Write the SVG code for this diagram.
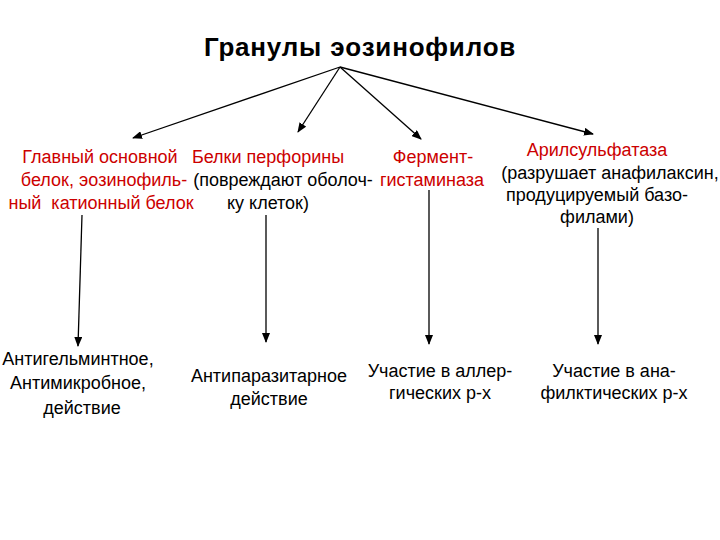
<svg xmlns="http://www.w3.org/2000/svg" width="720" height="540" viewBox="0 0 720 540">
<defs><marker id="ah" markerWidth="10" markerHeight="8" refX="9" refY="4" orient="auto" markerUnits="userSpaceOnUse"><path d="M0,0 L10,4 L0,8 z" fill="#000"/></marker></defs>
<style>
text{font-family:"Liberation Sans",Arial,sans-serif;font-size:18px;text-anchor:middle}
.r{fill:#cc0000}.k{fill:#000}
line{stroke:#000;stroke-width:1.3}
</style>
<rect width="720" height="540" fill="#fff"/>
<g id="title"><text x="360" y="56" style="font-size:26px;font-weight:bold;letter-spacing:0.8px">Гранулы эозинофилов</text></g>
<g id="n1"><text class="r" x="100" y="163">Главный основной</text><text class="r" x="104" y="186">белок, эозинофиль-</text><text class="r" x="101" y="209">ный &#160;катионный белок</text></g>
<g id="n2"><text class="r" x="268" y="163">Белки перфорины</text><text class="k" x="283" y="186">(повреждают оболоч-</text><text class="k" x="268" y="209">ку клеток)</text></g>
<g id="n3"><text class="r" x="433" y="163">Фермент-</text><text class="r" x="432" y="186">гистаминаза</text></g>
<g id="n4"><text class="r" x="597" y="156">Арилсульфатаза</text><text class="k" x="610" y="179">(разрушает анафилаксин,</text><text class="k" x="597" y="201">продуцируемый базо-</text><text class="k" x="597" y="223">филами)</text></g>
<g id="b1"><text x="78" y="365">Антигельминтное,</text><text x="78" y="389">Антимикробное,</text><text x="82" y="414">действие</text></g>
<g id="b2"><text x="269" y="382">Антипаразитарное</text><text x="269" y="405">действие</text></g>
<g id="b3"><text x="440" y="377">Участие в аллер-</text><text x="440" y="399">гических р-х</text></g>
<g id="b4"><text x="614" y="377">Участие в ана-</text><text x="614" y="399">филктических р-х</text></g>
<g id="connectors">
<line x1="340" y1="67" x2="133" y2="138" marker-end="url(#ah)"/>
<line x1="340" y1="67" x2="298" y2="132" marker-end="url(#ah)"/>
<line x1="340" y1="67" x2="421" y2="139" marker-end="url(#ah)"/>
<line x1="340" y1="67" x2="593" y2="134" marker-end="url(#ah)"/>
<line x1="82" y1="215" x2="78" y2="346" marker-end="url(#ah)"/>
<line x1="266" y1="215" x2="266" y2="342" marker-end="url(#ah)"/>
<line x1="429" y1="190" x2="429" y2="344" marker-end="url(#ah)"/>
<line x1="598" y1="228" x2="598" y2="344" marker-end="url(#ah)"/>
</g>
</svg>
